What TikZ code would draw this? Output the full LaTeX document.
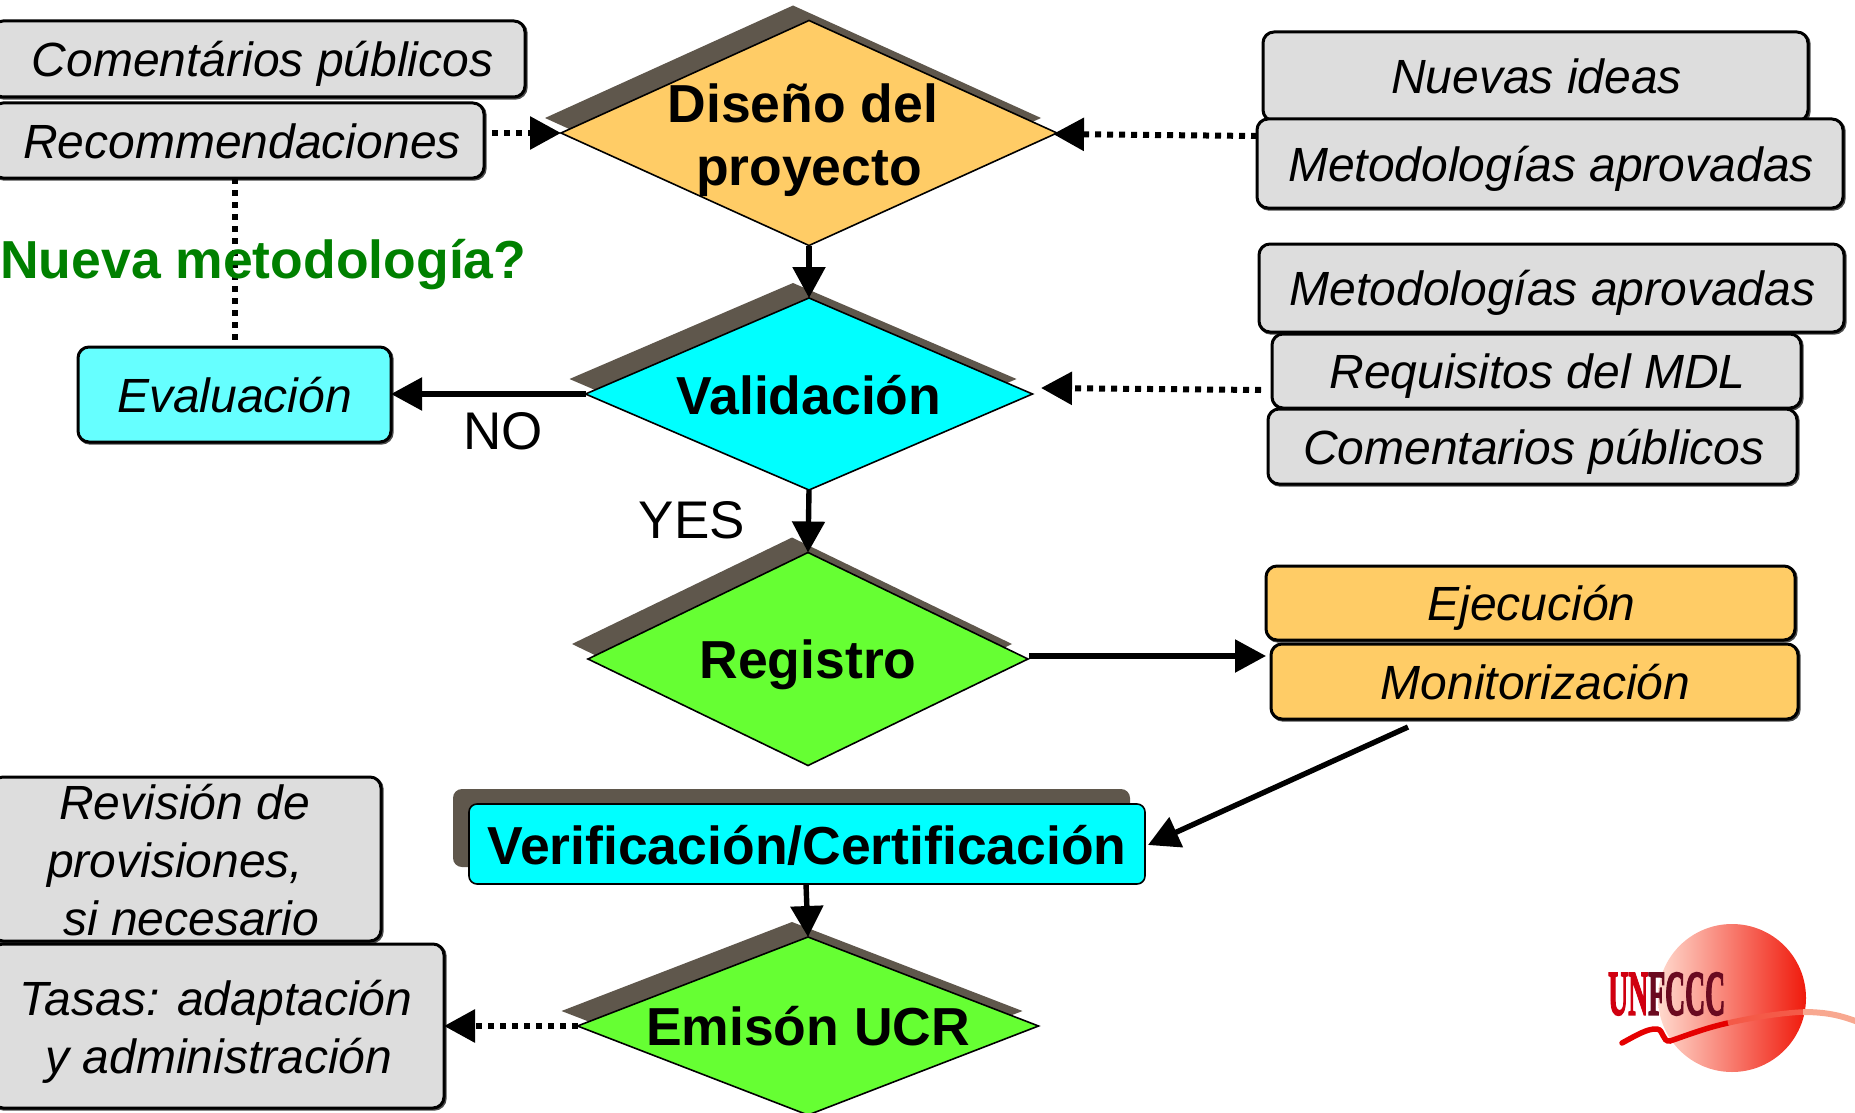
\documentclass[tikz,border=0pt]{standalone}
\usepackage{fontspec}
\setmainfont{Liberation Sans}
\usepackage{graphicx}
\usetikzlibrary{arrows.meta,shapes.geometric}
\definecolor{boxgray}{HTML}{DDDDDD}
\definecolor{shade}{HTML}{5F574C}
\definecolor{orng}{HTML}{FFCC66}
\definecolor{lcyan}{HTML}{66FFFF}
\definecolor{aqua}{HTML}{00FFFF}
\definecolor{lime}{HTML}{66FF33}
\definecolor{dgreen}{HTML}{008000}
\definecolor{logolight}{HTML}{FFDACE}
\definecolor{logored}{HTML}{F01A0C}
\definecolor{swmid}{HTML}{F45A48}
\definecolor{swpale}{HTML}{F8A890}
\tikzset{
 anybox/.style={draw=black,line width=3pt,rounded corners=11pt,inner sep=0pt,outer sep=0pt,
   font=\fontsize{48}{52}\selectfont\itshape,text height=35pt,text depth=0pt,
   preaction={draw=black!70,line width=3pt,transform canvas={xshift=1.2pt,yshift=-1.2pt}}},
 graybox/.style={anybox,fill=boxgray},
 orangebox/.style={anybox,fill=orng},
 cyanbox/.style={anybox,fill=lcyan},
 dia/.style={diamond,draw=black,line width=1.6pt,inner sep=0pt,outer sep=0pt},
 diashade/.style={diamond,fill=shade,inner sep=0pt,outer sep=0pt},
 bigtext/.style={font=\fontsize{53.5}{64}\selectfont\bfseries,align=center,inner sep=0pt},
 plain/.style={font=\fontsize{53}{58}\selectfont,inner sep=0pt},
 flow/.style={line width=5.4pt,-{Triangle[length=31pt,width=32pt]}},
 dotflow/.style={line width=6pt,dash pattern=on 6pt off 6pt,-{Triangle[length=31pt,width=32pt]}},
 dotline/.style={line width=6pt,dash pattern=on 6pt off 6pt},
}
\newcommand{\bx}[7]{%
 \pgfmathsetmacro{\bw}{#5-#3}\pgfmathsetmacro{\bh}{#6-#4}%
 \pgfmathsetmacro{\bcx}{(#5+#3)/2}\pgfmathsetmacro{\bcy}{(#6+#4)/2}%
 \node[#2,minimum width=\bw pt,minimum height=\bh pt] (#1) at (\bcx,\bcy) {#7};}
\newcommand{\dm}[6]{%
 \pgfmathsetmacro{\asp}{#4/#5}%
 \node[diashade,minimum width=#4pt,minimum height=#5pt,aspect=\asp] (#1s) at (#2-16,#3-15) {};
 \node[dia,fill=#6,minimum width=#4pt,minimum height=#5pt,aspect=\asp] (#1) at (#2,#3) {};}
\begin{document}
\begin{tikzpicture}[x=1pt,y=-1pt]
\useasboundingbox (0,0) rectangle (1855,1113);
\clip (0,0) rectangle (1855,1113);
% logo
\shade[left color=logolight,right color=logored] (1732,998) circle[radius=74];
\node[inner sep=0pt,anchor=west] (logotext) at (1608,994) {\resizebox{117pt}{42pt}{\fontspec{Liberation Serif}[FakeBold=3]\bfseries\textcolor[HTML]{D00010}{UN}\textcolor[HTML]{6A0A20}{FCCC}}};
\draw[red!90!black,line width=5.5pt,line cap=round] (1622,1043) .. controls (1635,1036) and (1648,1028) .. (1657,1029) .. controls (1664,1030) and (1662,1042) .. (1670,1041) .. controls (1685,1036) and (1705,1028) .. (1728,1023);
\draw[swmid,line width=5.5pt] (1728,1023) .. controls (1750,1018) and (1780,1013) .. (1803,1012);
\draw[swpale,line width=6pt] (1803,1012) .. controls (1825,1012) and (1840,1015) .. (1858,1022);
% diamonds
\dm{dis}{809}{133}{496}{225}{orng}
\dm{val}{809}{394}{447}{192}{aqua}
\dm{reg}{808}{659}{440}{213}{lime}
\dm{emi}{808}{1026}{461}{178}{lime}
% verification
\bx{vers}{fill=shade,rounded corners=9pt,inner sep=0pt,outer sep=0pt}{453}{789}{1130}{867}{}
\bx{ver}{draw=black,line width=1.6pt,fill=aqua,rounded corners=8pt,inner sep=0pt,outer sep=0pt}{469}{804}{1145}{884}{}
% boxes
\bx{com}{graybox}{-8}{21}{525}{97}{\hspace*{8pt}Comentários públicos}
\bx{rec}{graybox}{-8}{103}{484}{178}{\hspace*{8pt}Recommendaciones}
\bx{eva}{cyanbox}{78}{347}{391}{442}{Evaluación}
\bx{nue}{graybox}{1263}{32}{1808}{121}{\hspace*{2pt}Nuevas ideas}
\bx{me1}{graybox}{1257}{119}{1843}{208}{\hspace*{2pt}Metodologías aprovadas}
\bx{me2}{graybox}{1259}{244}{1844}{332}{\hspace*{2pt}Metodologías aprovadas}
\bx{req}{graybox}{1272}{334}{1801}{408}{\hspace*{2pt}Requisitos del MDL}
\bx{cm2}{graybox}{1268}{409}{1797}{484}{\hspace*{3pt}Comentarios públicos}
\bx{eje}{orangebox}{1266}{566}{1795}{640}{\hspace*{2pt}Ejecución}
\bx{mon}{orangebox}{1271}{644}{1798}{719}{\hspace*{2pt}Monitorización}
\bx{rev}{graybox}{-8}{777}{381}{941}{}
\bx{tas}{graybox}{-8}{944}{444}{1108}{}
% connectors
\coordinate (recout) at (492,133);
\coordinate (distip) at (561,133);
\coordinate (meout) at (1257,136);
\coordinate (distipr) at (1053,134);
\coordinate (reqout) at (1261,390);
\coordinate (valtip) at (1041,388);
\coordinate (regout) at (1029,656);
\coordinate (ejetip) at (1266,656);
\coordinate (monout) at (1408,727);
\coordinate (vertip) at (1148,845);
\draw[dotflow] (recout) -- (distip);
\draw[dotflow] (meout) -- (distipr);
\draw[dotflow] (reqout) -- (valtip);
\draw[flow] (dis.south) -- (val.north);
\draw[flow] (val.west) -- (val.west -| eva.east);
\draw[flow] (val.south) -- (reg.north);
\draw[flow] (regout) -- (ejetip);
\draw[flow] (monout) -- (vertip);
\draw[flow] (ver.south -| emi.north) ++(-2,0) -- (emi.north);
\draw[dotflow] (emi.west) -- (emi.west -| tas.east);
\draw[dotline] (rec.south -| eva.north) -- (eva.north);
% labels
\node[bigtext] (t1) at (803,140) {Diseño del\\[-1pt]\hspace*{12pt}proyecto};
\node[bigtext] (t2) at (809,395) {Validación};
\node[bigtext] (t3) at (808,665) {Registro};
\node[bigtext] (t4) at (808,1026) {Emisón UCR};
\node[bigtext] (t5) at (807,845) {Verificación/Certificación};
\node[bigtext,text=dgreen,anchor=west] (t6) at (0,265) {Nueva metodología?};
\node[plain] (no) at (503,431) {NO};
\node[plain] (yes) at (692,520) {YES};
\node[font=\fontsize{48}{58}\selectfont\itshape,align=left,inner sep=0pt,anchor=west] (t7) at (47,860) {\hspace*{12pt}Revisión de\\provisiones,\\\hspace*{16pt}si necesario};
\node[font=\fontsize{48}{58}\selectfont\itshape,align=center,inner sep=0pt] (t8) at (216,1032) {Tasas: adaptación\\\hspace*{6pt}y administración};
\end{tikzpicture}
\end{document}
